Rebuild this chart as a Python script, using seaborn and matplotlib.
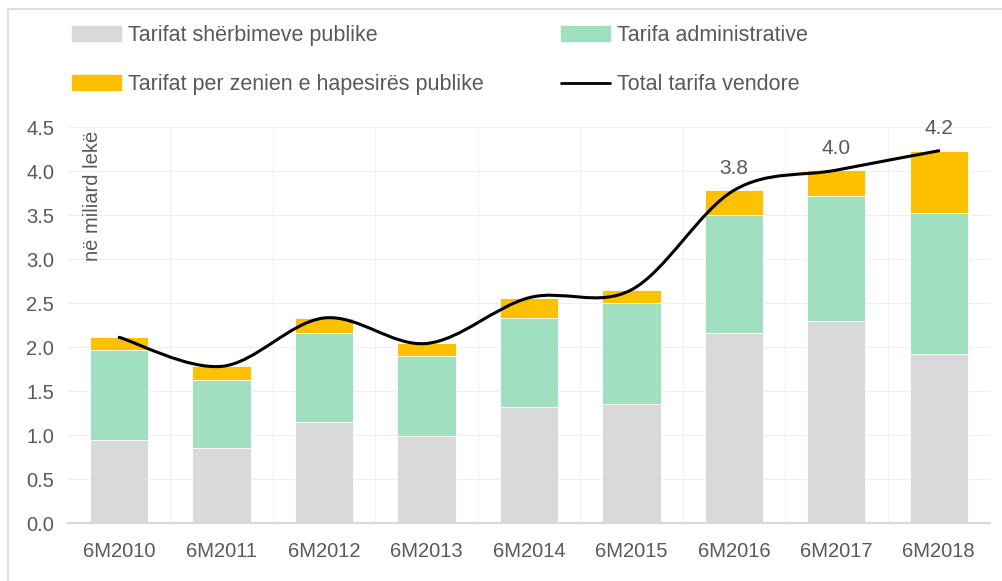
import pandas as pd
import matplotlib
matplotlib.use("Agg")
import matplotlib.pyplot as plt
import seaborn as sns
from matplotlib.path import Path
from matplotlib.patches import PathPatch, Rectangle, Patch
from matplotlib.lines import Line2D

# --- DATA ---
periods = ["6M2010", "6M2011", "6M2012", "6M2013", "6M2014",
           "6M2015", "6M2016", "6M2017", "6M2018"]
sherbime = [0.94, 0.85, 1.15, 0.99, 1.32, 1.35, 2.16, 2.30, 1.92]
administrative = [1.03, 0.77, 1.01, 0.91, 1.01, 1.15, 1.34, 1.42, 1.60]
hapesire = [0.14, 0.16, 0.17, 0.14, 0.23, 0.15, 0.28, 0.29, 0.71]
labelled = ["6M2016", "6M2017", "6M2018"]

GREY = "#d9d9d9"
GREEN = "#a1dfc1"
GOLD = "#ffc000"
TXT = "#595959"
FONT = ["Liberation Sans Narrow", "Liberation Sans", "DejaVu Sans"]

df = pd.DataFrame({"period": periods, "a": sherbime, "b": administrative, "c": hapesire})
df["ab"] = df["a"] + df["b"]
df["total"] = df["ab"] + df["c"]

sns.set_style("white")
plt.rcParams["font.family"] = FONT

fig = plt.figure(figsize=(10.03, 5.81), dpi=100)
ax = fig.add_axes([0.0678, 0.0998, 0.9192, 0.6816])

# outer frame of the original slide
fig.patches.append(Rectangle((8 / 1003, -0.1), 1.2, 1 - 9 / 581 + 0.1, transform=fig.transFigure,
                             fill=False, edgecolor="#d9d9d9", linewidth=1.2))

# stacked bars: draw cumulative layers, tallest first
sns.barplot(data=df, x="period", y="total", color=GOLD, width=0.57, saturation=1, ax=ax)
sns.barplot(data=df, x="period", y="ab", color=GREEN, width=0.57, saturation=1, ax=ax)
sns.barplot(data=df, x="period", y="a", color=GREY, width=0.57, saturation=1, ax=ax)
for p in ax.patches:
    p.set_edgecolor("white")
    p.set_linewidth(0.6)

# smoothed total line (Bezier through the totals, Excel style)
tot = list(df["total"])
pts = [(i, v) for i, v in enumerate(tot)]
verts = [pts[0]]
codes = [Path.MOVETO]
n = len(pts)
for i in range(n - 1):
    p0 = pts[i - 1] if i > 0 else pts[i]
    p1 = pts[i]
    p2 = pts[i + 1]
    p3 = pts[i + 2] if i + 2 < n else pts[i + 1]
    c1 = (p1[0] + (p2[0] - p0[0]) / 6, p1[1] + (p2[1] - p0[1]) / 6)
    c2 = (p2[0] - (p3[0] - p1[0]) / 6, p2[1] - (p3[1] - p1[1]) / 6)
    verts += [c1, c2, p2]
    codes += [Path.CURVE4] * 3
ax.add_patch(PathPatch(Path(verts, codes), fill=False, edgecolor="black", linewidth=2.2,
                       capstyle="round", zorder=5))

for i, per in enumerate(periods):
    if per in labelled:
        ax.text(i, tot[i] + 0.25, f"{tot[i]:.1f}", ha="center", va="center",
                fontsize=15, color=TXT)

ax.set_xlim(-0.5, len(periods) - 0.5)
ax.set_ylim(0, 4.5)
ax.set_yticks([x / 2 for x in range(10)])
ax.set_yticklabels([f"{x / 2:.1f}" for x in range(10)])
ax.set_xlabel("")
ax.set_ylabel("")
ax.tick_params(axis="both", labelsize=14.5, colors=TXT, length=0)
ax.tick_params(axis="x", pad=14)
ax.tick_params(axis="y", pad=10)

ax.set_axisbelow(True)
ax.yaxis.grid(True, color="#f0f0f0", linewidth=0.8)
ax.set_xticks([i + 0.5 for i in range(len(periods) - 1)], minor=True)
ax.xaxis.grid(True, which="minor", color="#f0f0f0", linewidth=0.8)
sns.despine(ax=ax, left=True, top=True, right=True)
ax.spines["bottom"].set_color("#d9d9d9")
ax.spines["bottom"].set_linewidth(1.5)

ax.text(0.027, 0.99, "në miliard lekë", transform=ax.transAxes, rotation=90,
        ha="center", va="top", fontsize=14.5, color=TXT)

# legend fills column-wise: grey, gold | green, line
handles = [Patch(color=GREY), Patch(color=GOLD), Patch(color=GREEN),
           Line2D([0], [0], color="black", linewidth=2)]
names = ["Tarifat shërbimeve publike", "Tarifat per zenien e hapesirës publike",
         "Tarifa administrative", "Total tarifa vendore"]
fig.legend(handles, names, loc="upper left", bbox_to_anchor=(0.052, 0.99), ncol=2,
           frameon=False, fontsize=15.5, labelcolor=TXT, handlelength=2.3, handleheight=0.65,
           handletextpad=0.3, columnspacing=3.6, labelspacing=1.3)

fig.savefig("out.png", dpi=100)
